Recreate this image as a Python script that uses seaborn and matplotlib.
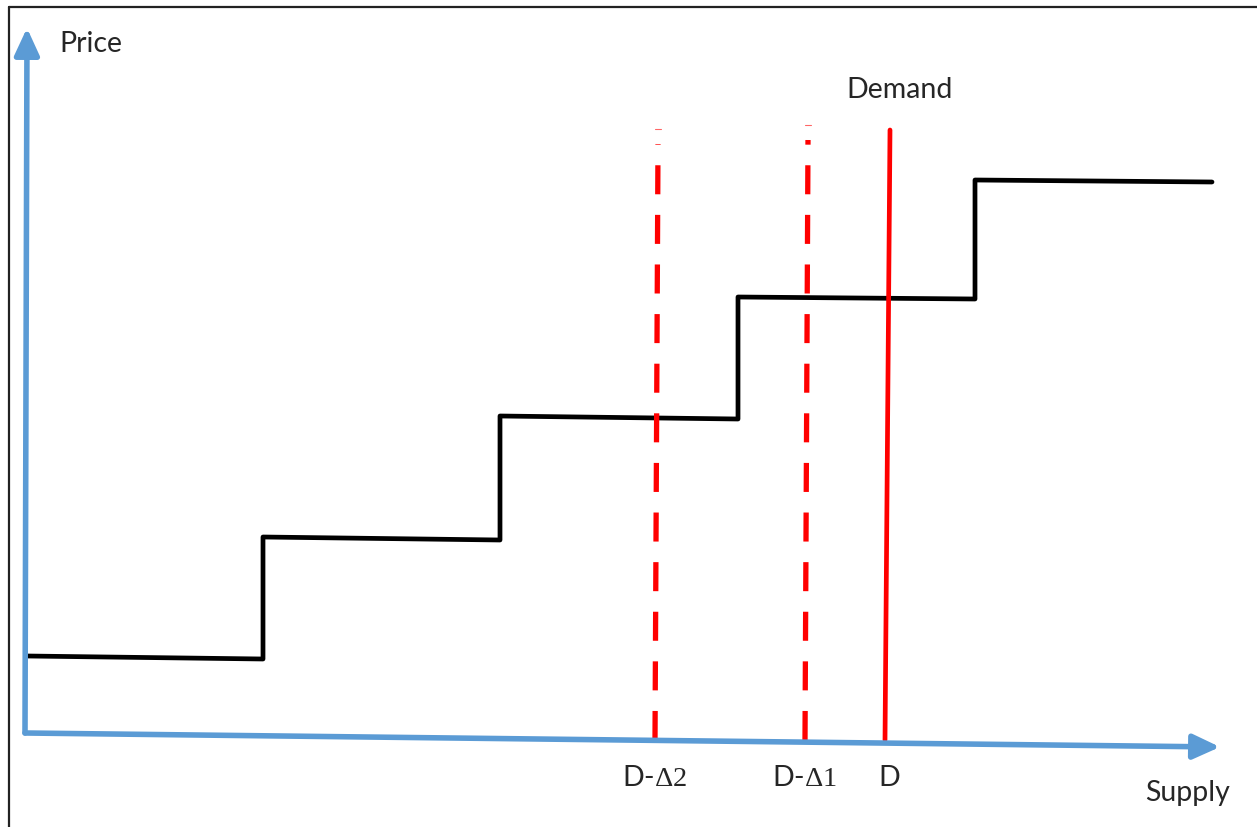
import matplotlib
matplotlib.use("Agg")
import matplotlib.pyplot as plt
import seaborn as sns

# supply step curve (quantity, price) - horizontal parts droop slightly like in the sketch
step_q = [0, 236, 236, 473, 473, 711, 711, 948, 948, 1185]
step_p = [77, 74, 196, 193, 317, 314, 436, 434, 553, 551]

# demand and the two reduced demand levels (bottom / top x of each line)
demand_q = [858, 863]
demand_p = [-7, 603]
d1_q = [778, 781]
d1_p = [-7, 593]
d2_q = [628, 631]
d2_p = [-7, 589]

sns.set_theme(style="white")
plt.rcParams["font.family"] = ["Lato", "DejaVu Sans"]
plt.rcParams["mathtext.fontset"] = "custom"
plt.rcParams["mathtext.rm"] = "Liberation Serif"

fig = plt.figure(figsize=(12.57, 8.27), dpi=100)
ax = fig.add_axes([0, 0, 1, 1])
ax.set_xlim(-27, 1230)
ax.set_ylim(-94, 733)
ax.axis("off")

blue = "#5B9BD5"
red = "#FF0000"

# frame (only left and top are visible in the original)
ax.plot([-18, -18], [-94, 726], color="#222222", lw=1.6)
ax.plot([-18, 1230], [726, 726], color="#222222", lw=1.6)

# axes as arrows
arrow = dict(arrowstyle="-|>,head_length=0.65,head_width=0.3", lw=4.0,
             color=blue, mutation_scale=25, shrinkA=0, shrinkB=0)
ax.annotate("", xy=(1193, -14), xytext=(-2, 0), arrowprops=arrow)
ax.annotate("", xy=(0, 705), xytext=(-2, 0), arrowprops=arrow)

sns.lineplot(x=step_q, y=step_p, sort=False, estimator=None, color="black",
             lw=3.4, ax=ax)
sns.lineplot(x=demand_q, y=demand_p, sort=False, estimator=None, color=red,
             lw=3.4, ax=ax)
for q, p in [(d1_q, d1_p), (d2_q, d2_p)]:
    # drawn bottom-up so the dash pattern meets the supply axis
    sns.lineplot(x=q, y=p, sort=False, estimator=None, color=red, lw=3.8,
                 dashes=False, ax=ax, linestyle=(0, (5.5, 3.9)))
    # small stray tick above each dashed line
    ax.plot([q[1] - 3, q[1] + 3], [p[1] + 15, p[1] + 15], color=red, lw=0.8,
            alpha=0.6)

fs = 20.5
ax.text(32, 689, "Price", fontsize=fs, ha="left", va="center")
ax.text(873, 643, "Demand", fontsize=fs, ha="center", va="center")
ax.text(1161, -60, "Supply", fontsize=fs, ha="center", va="center")
ax.text(628, -45, r"D-$\mathrm{\Delta 2}$", fontsize=fs, ha="center", va="center")
ax.text(778, -45, r"D-$\mathrm{\Delta 1}$", fontsize=fs, ha="center", va="center")
ax.text(862, -45, "D", fontsize=fs, ha="center", va="center")

fig.savefig("out.png", dpi=100)
